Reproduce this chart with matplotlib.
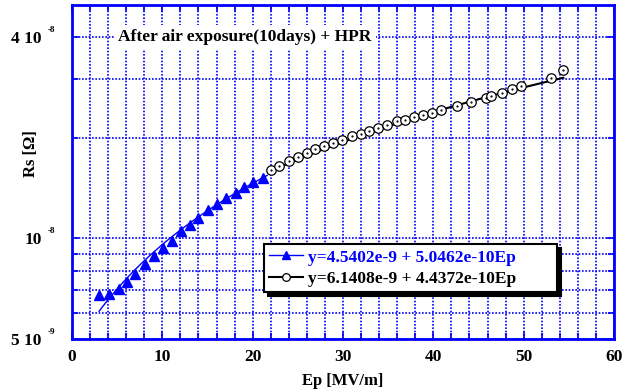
import numpy as np
import matplotlib
matplotlib.use('Agg')
import matplotlib.pyplot as plt
import matplotlib.transforms as mtransforms
from matplotlib.lines import Line2D
from matplotlib.ticker import FixedLocator, NullFormatter

plt.rcParams['font.family'] = 'Liberation Serif'
plt.rcParams['font.weight'] = 'bold'

# low field data (triangles)
ep_low = [3.0, 4.1, 5.2, 6.1, 7.0, 8.1, 9.1, 10.1, 11.1, 12.1, 13.1, 14.0,
          15.1, 16.1, 17.1, 18.1, 19.0, 20.0, 21.1]
rs_low = [6.78e-9, 6.80e-9, 7.08e-9, 7.39e-9, 7.85e-9, 8.39e-9, 8.89e-9,
          9.35e-9, 9.86e-9, 1.05e-8, 1.10e-8, 1.15e-8, 1.22e-8, 1.27e-8,
          1.32e-8, 1.37e-8, 1.43e-8, 1.48e-8, 1.52e-8]

# high field data (circles)
ep_high = [22.0, 22.9, 24.0, 25.0, 26.0, 26.9, 27.9, 28.9, 29.9, 31.0, 32.0,
           32.9, 33.9, 34.9, 36.0, 36.9, 37.9, 38.9, 39.9, 40.9, 42.6, 44.2,
           45.8, 46.4, 47.6, 48.7, 49.7, 53.0, 54.3]
rs_high = [1.60e-8, 1.65e-8, 1.70e-8, 1.75e-8, 1.80e-8, 1.85e-8, 1.89e-8,
           1.93e-8, 1.97e-8, 2.02e-8, 2.06e-8, 2.10e-8, 2.14e-8, 2.19e-8,
           2.24e-8, 2.27e-8, 2.31e-8, 2.35e-8, 2.38e-8, 2.43e-8, 2.50e-8,
           2.56e-8, 2.64e-8, 2.67e-8, 2.73e-8, 2.81e-8, 2.86e-8, 3.03e-8,
           3.19e-8]

# linear fits from the legend
fit_low = (4.5402e-9, 5.0462e-10)
fit_high = (6.1408e-9, 4.4372e-10)
fit_low_range = (3.0, 21.6)
fit_high_range = (22.0, 54.4)

label_low = 'y=4.5402e-9 + 5.0462e-10Ep'
label_high = 'y=6.1408e-9 + 4.4372e-10Ep'
title = 'After air exposure(10days) + HPR'

ytick_vals = [5e-9, 1e-8, 4e-8]
ytick_labels = ['5 10', '10', '4 10']
ytick_exps = ['-9', '-8', '-8']
yminor_vals = [6e-9, 7e-9, 8e-9, 9e-9, 2e-8, 3e-8]

blue = '#0000ff'
FONT = dict(family='Liberation Serif', weight='bold')

fig = plt.figure(figsize=(6.3, 3.92), dpi=100)
ax = fig.add_axes([0.1143, 0.1352, 0.8603, 0.852])

xl = np.linspace(*fit_low_range, 100)
ax.plot(xl, fit_low[0] + fit_low[1] * xl, color=blue, lw=1.0, zorder=3)
xh = np.linspace(*fit_high_range, 100)
ax.plot(xh, fit_high[0] + fit_high[1] * xh, color='black', lw=1.5, zorder=3)

ax.plot(ep_low, rs_low, ls='none', marker='^', ms=7.5, color=blue, zorder=4)
ax.plot(ep_high, rs_high, ls='none', marker='o', ms=6.8, mfc='white',
        mec='black', mew=0.9, zorder=4)
ax.plot(ep_high, rs_high, ls='none', marker='.', ms=1.2, color='black', zorder=5)

ax.set_yscale('log')
ax.set_xlim(0, 60)
ax.set_ylim(5e-9, 5e-8)

ax.xaxis.set_major_locator(FixedLocator([0, 10, 20, 30, 40, 50, 60]))
ax.xaxis.set_minor_locator(FixedLocator(np.arange(0, 61, 2)))
ax.yaxis.set_major_locator(FixedLocator(ytick_vals))
ax.yaxis.set_minor_locator(FixedLocator(yminor_vals))
ax.yaxis.set_minor_formatter(NullFormatter())
ax.set_yticklabels(ytick_labels)

ax.grid(True, which='both', color=blue, ls=(0, (1, 1)), lw=1.2)
ax.set_axisbelow(True)

ax.tick_params(which='both', direction='in', top=True, right=True,
               color=blue, width=1.2, labelsize=12.5)
ax.tick_params(which='major', length=5)
ax.tick_params(which='minor', length=4)
ax.tick_params(axis='y', pad=22)
ax.tick_params(axis='x', pad=7)
for lbl in ax.get_xticklabels() + ax.get_yticklabels():
    lbl.set_fontproperties(dict(FONT, size=12.5))
for sp in ax.spines.values():
    sp.set_color(blue)
    sp.set_linewidth(2)

# small exponents next to the y tick labels
exp_trans = mtransforms.offset_copy(
    mtransforms.blended_transform_factory(ax.transAxes, ax.transData),
    fig=fig, x=0, y=7, units='dots')
for val, ex in zip(ytick_vals, ytick_exps):
    ax.text(-0.0443, val, ex, transform=exp_trans, fontsize=6.5,
            ha='left', va='center', clip_on=False, **FONT)

ax.set_xlabel('Ep [MV/m]', fontsize=12, labelpad=6, **FONT)
ax.set_ylabel('Rs [\u03a9]', fontsize=12, **FONT)
ax.yaxis.set_label_coords(-0.06, 0.555)

ax.text(0.085, 0.904, title, transform=ax.transAxes, fontsize=12.5,
        ha='left', va='center', zorder=6,
        bbox=dict(facecolor='white', edgecolor='none', pad=3), **FONT)

handles = [Line2D([], [], color=blue, lw=1.0, marker='^', ms=6),
           Line2D([], [], color='black', lw=1.5, marker='o', ms=5.5,
                  mfc='white', mec='black', mew=0.9)]
leg = ax.legend(handles, [label_low, label_high], loc='upper left',
                bbox_to_anchor=(0.354, 0.284, 0.54, 0.0), mode='expand',
                fancybox=False,
                shadow={'color': 'black', 'alpha': 1, 'ox': 3, 'oy': -3},
                framealpha=1, edgecolor='black',
                prop=dict(FONT, size=12.5),
                handlelength=1.95, borderpad=0.3, labelspacing=0.3,
                handletextpad=0.3, borderaxespad=0)
leg.get_frame().set_linewidth(1.5)
leg.get_texts()[0].set_color(blue)
leg.set_zorder(7)

fig.savefig('out.png', dpi=100)
